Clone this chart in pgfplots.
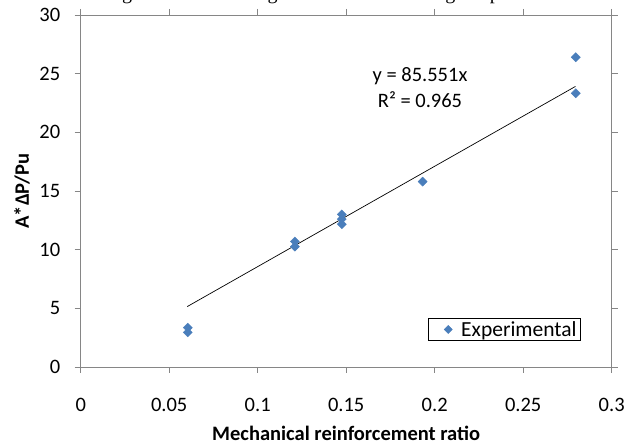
\documentclass[border=0pt]{standalone}
\usepackage{fontspec}
\setmainfont{Carlito}
\newfontfamily\seriffont{Liberation Serif}
\usepackage{pgfplots}
\pgfplotsset{compat=1.18}
\definecolor{exblue}{RGB}{74,126,187}
\definecolor{axgray}{RGB}{134,134,134}
\begin{document}
\begin{tikzpicture}[x=1pt,y=1pt]
\useasboundingbox (-80.7,-74) rectangle (546.3,367);
\node[anchor=base east, inner sep=0pt, font=\seriffont\fontsize{20}{24}\selectfont] at (489.3,367.5) {Figure 10: Linear regression for calculating the parameter};
\begin{axis}[
  at={(0,0)}, anchor=south west,
  scale only axis, width=531pt, height=352pt,
  xmin=0, xmax=0.3, ymin=0, ymax=30,
  xtick={0,0.05,0.1,0.15,0.2,0.25,0.3},
  xticklabels={0,0.05,0.1,0.15,0.2,0.25,0.3},
  scaled x ticks=false,
  ytick={0,5,10,15,20,25,30},
  tick align=outside, major tick length=6pt,
  tick style={axgray, line width=0.8pt},
  axis line style={axgray, line width=0.8pt},
  ticklabel style={font=\fontsize{20.5}{24}\selectfont},
  /pgf/number format/assume math mode=true,
  xticklabel style={yshift=-21.5pt},
  yticklabel style={xshift=-11pt},
  label style={font=\bfseries\fontsize{20.5}{24}\selectfont},
  ylabel={A*ΔP/Pu},
  xlabel={Mechanical reinforcement ratio},
  ylabel style={at={(axis description cs:-0.1105,0.5)}, anchor=center},
  xlabel style={at={(axis description cs:0.5,-0.189)}, anchor=center},
  legend style={at={(0.942,0.074)}, anchor=south east, draw=black, line width=0.6pt,
    font=\fontsize{21.5}{24}\selectfont, inner xsep=2pt, inner ysep=1pt},
  legend image code/.code={\path[draw=none, fill=none] (0pt,0pt) -- (29pt,0pt);
    \draw[#1, mark size=2.8pt] plot coordinates {(18pt,0pt)};},
]
\addplot[only marks, mark=square*, mark size=3.2pt,
  mark options={fill=exblue, draw=exblue, rotate=45}]
  coordinates {
  (0.0605,3.35) (0.0605,2.95)
  (0.121,10.7) (0.121,10.26)
  (0.1475,13.0) (0.1475,12.6) (0.1475,12.17)
  (0.1932,15.8)
  (0.2797,26.4) (0.2797,23.33)
  };
\addlegendentry{Experimental}
\addplot[black, line width=0.7pt, forget plot] coordinates {(0.0602,5.15) (0.2795,23.91)};
\node[font=\fontsize{20.5}{26}\selectfont, align=center] at (axis cs:0.1917,23.8) {y = 85.551x\\R² = 0.965};
\end{axis}
\end{tikzpicture}
\end{document}
